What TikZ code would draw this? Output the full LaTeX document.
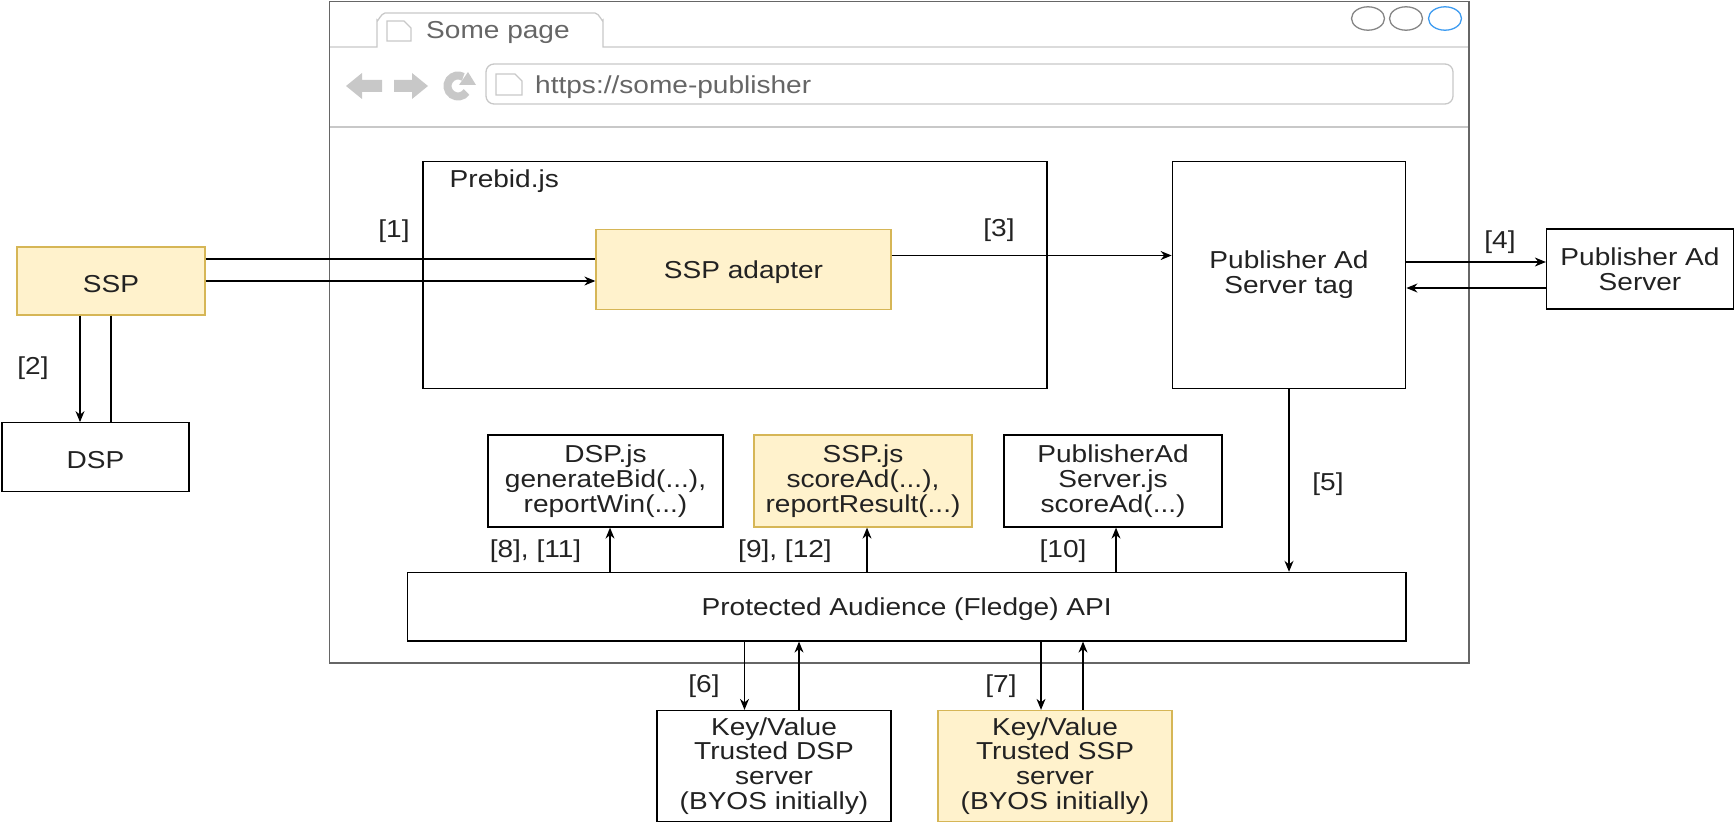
\documentclass[tikz,border=0pt]{standalone}
\usepackage{fontspec}
\setmainfont[FakeStretch=1.145]{Liberation Sans}
\usetikzlibrary{arrows.meta}

\definecolor{sspfill}{HTML}{fff2cc}
\definecolor{sspline}{HTML}{d6b656}
\definecolor{chrome}{HTML}{c8c8c8}
\definecolor{frameline}{HTML}{666666}
\definecolor{inktext}{HTML}{222222}
\definecolor{activeblue}{HTML}{3d9bf0}

\tikzset{
  box/.style={draw=black,line width=1.3pt,inner sep=0pt,align=center,text=inktext,execute at begin node={\rule{0pt}{22.5pt}}},
  sspbox/.style={box,draw=sspline,fill=sspfill},
  tag/.style={inner sep=0pt,text=inktext,execute at begin node={\rule{0pt}{22pt}}},
  flow/.style={line width=1.2pt,-{Stealth[length=11pt,width=9pt]}},
  plain/.style={line width=1.2pt},
  chromeline/.style={draw=chrome,line width=1.3pt},
}

\begin{document}
\begin{tikzpicture}[x=1pt,y=-1pt,font=\fontsize{24.5}{24.7}\selectfont]
      \useasboundingbox (0,0) rectangle (1736,824);
      % browser window
      \draw[chromeline] (329.5,47) -- (377,47) -- (377,20) to[out=-90,in=180] (385,13) -- (595,13) to[out=0,in=-90] (603,20) -- (603,47) -- (1469,47);
      \draw[chromeline] (329.5,127) -- (1469,127);
      \draw[chromeline,rounded corners=8pt] (486,64) rectangle (1453,104);
      \draw[frameline,line width=1.4pt] (329.5,1.5) rectangle (1469,663);
      \draw[frameline!80,line width=1.3pt] (1368,18.5) ellipse (16.5 and 11.7);
      \draw[frameline!80,line width=1.3pt] (1406,18.5) ellipse (16.5 and 11.7);
      \draw[activeblue,line width=1.3pt] (1445,18.5) ellipse (16.5 and 11.7);
      \node[tag,anchor=west,text=frameline] (pagetab) at (426,30) {Some page};
      \node[tag,anchor=west,text=frameline] (pageurl) at (535,85) {https://some-publisher};
      % page icons
      \draw[chromeline] (387,21) -- (404,21) -- (411,28) -- (411,41) -- (387,41) -- cycle;
      \draw[chromeline] (496,74) -- (515,74) -- (522,81) -- (522,95) -- (496,95) -- cycle;
      % back, forward, reload
      \fill[chrome] (346,86) -- (362,73) -- (362,80) -- (382,80) -- (382,92) -- (362,92) -- (362,99) -- cycle;
      \fill[chrome] (428,86) -- (412,73) -- (412,80) -- (394,80) -- (394,92) -- (412,92) -- (412,99) -- cycle;
      \draw[chrome,line width=8pt] (466.6,92) arc (35:300:10.5);
      \fill[chrome] (468,72) -- (476,85) -- (459,85) -- cycle;

      \node[sspbox,minimum width=188pt,minimum height=68pt] (ssp) at (111,281) {SSP};
      \node[box,minimum width=187pt,minimum height=68.5pt] (dsp) at (95.5,457) {DSP};
      \node[box,minimum width=624pt,minimum height=227pt] (prebid) at (735,275) {};
      \node[tag,anchor=west] (prebidname) at (449.5,179.5) {Prebid.js};
      \node[sspbox,minimum width=295pt,minimum height=80pt] (adapter) at (743.5,269.5) {SSP adapter};
      \node[box,minimum width=233.5pt,minimum height=227pt] (adtag) at (1289,275) {Publisher Ad\\Server tag};
      \node[box,minimum width=187pt,minimum height=80pt] (adserver) at (1640,269) {Publisher Ad\\Server};
      \node[box,minimum width=235pt,minimum height=92pt] (dspjs) at (605.5,481) {DSP.js\\generateBid(...),\\reportWin(...)};
      \node[sspbox,minimum width=218pt,minimum height=92pt] (sspjs) at (863,481) {SSP.js\\scoreAd(...),\\reportResult(...)};
      \node[box,minimum width=218pt,minimum height=92pt] (pubjs) at (1113,481) {PublisherAd\\Server.js\\scoreAd(...)};
      \node[box,minimum width=998.5pt,minimum height=68.5pt] (api) at (906.7,606.7) {Protected Audience (Fledge) API};
      \node[box,minimum width=234pt,minimum height=111pt] (kvdsp) at (774,766) {Key/Value\\Trusted DSP\\server\\(BYOS initially)};
      \node[sspbox,minimum width=234pt,minimum height=111pt] (kvssp) at (1055,766) {Key/Value\\Trusted SSP\\server\\(BYOS initially)};

      \node[tag] (lbla) at (394,229) {[1]};
      \node[tag] (lblb) at (33,366) {[2]};
      \node[tag] (lblc) at (999,228) {[3]};
      \node[tag] (lbld) at (1500,240) {[4]};
      \node[tag] (lble) at (1328,482) {[5]};
      \node[tag] (lblf) at (704,684) {[6]};
      \node[tag] (lblg) at (1001,684) {[7]};
      \node[tag] (lblh) at (535.5,549) {[8], [11]};
      \node[tag] (lbli) at (785,549) {[9], [12]};
      \node[tag] (lblj) at (1063,549) {[10]};

      % connectors
      \draw[plain] ([yshift=22pt]ssp.east) -- ([yshift=22pt]ssp.east -| adapter.west);
      \draw[flow] (ssp.east) -- (ssp.east -| adapter.west);
      \draw[flow] ([xshift=-31pt]ssp.south) -- ([xshift=-31pt]ssp.south |- dsp.north);
      \draw[plain] (ssp.south) -- (ssp.south |- dsp.north);
      \draw[flow] ([yshift=14pt]adapter.east) -- ([yshift=14pt]adapter.east -| adtag.west);
      \draw[flow] ([yshift=13pt]adtag.east) -- ([yshift=13pt]adtag.east -| adserver.west);
      \draw[flow] ([yshift=-13pt]adtag.east -| adserver.west) -- ([yshift=-13pt]adtag.east);
      \draw[flow] (adtag.south) -- (adtag.south |- api.north);
      \draw[flow] (dspjs.south |- api.north) ++(4.5,0) coordinate (dspup) -- (dspup |- dspjs.south);
      \draw[flow] (sspjs.south |- api.north) ++(4,0) coordinate (sspup) -- (sspup |- sspjs.south);
      \draw[flow] (pubjs.south |- api.north) ++(3,0) coordinate (pubup) -- (pubup |- pubjs.south);
      \draw[flow] (744.5,0 |- api.south) coordinate (kva) -- (kva |- kvdsp.north);
      \draw[flow] (799,0 |- kvdsp.north) coordinate (kvb) -- (kvb |- api.south);
      \draw[flow] (1041,0 |- api.south) coordinate (kvc) -- (kvc |- kvssp.north);
      \draw[flow] (1083,0 |- kvssp.north) coordinate (kvd) -- (kvd |- api.south);
\end{tikzpicture}
\end{document}
